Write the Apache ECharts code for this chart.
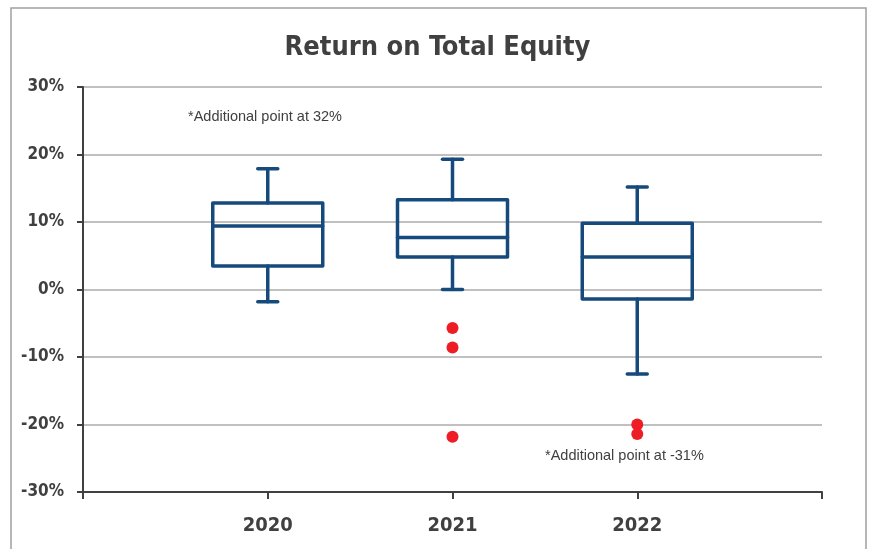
<!DOCTYPE html>
<html>
<head>
<meta charset="utf-8">
<script src="https://cdn.jsdelivr.net/npm/echarts@6/dist/echarts.min.js"></script>
<style>
  html, body { margin: 0; padding: 0; background: #fff; }
  #main { width: 875px; height: 549px; }
</style>
</head>
<body>
<div id="main"></div>
<script>
// categories (empty slots at both ends so the years sit on the ticks)
var years = ['', '2020', '2021', '2022', ''];
// [low whisker, Q1, median, Q3, high whisker] in %
var box2020 = [-1.8, 3.5, 9.4, 12.8, 17.9];
var box2021 = [0.0, 4.8, 7.7, 13.3, 19.3];
var box2022 = [-12.5, -1.4, 4.8, 9.8, 15.2];
// outliers [category index, value %]
var outliers = [[2, -5.7], [2, -8.6], [2, -21.8], [3, -20.0], [3, -21.4]];
var yTicks = [-30, -20, -10, 0, 10, 20, 30];

var boxes = [[1].concat(box2020), [2].concat(box2021), [3].concat(box2022)];

var chart = echarts.init(document.getElementById('main'));

var boxColor = '#174a7c';
var labelFont = 'DejaVu Sans Condensed, Liberation Sans Narrow, sans-serif';

function renderBox(params, api) {
  var x = api.value(0);
  var lo = api.coord([x, api.value(1)]);
  var q1 = api.coord([x, api.value(2)]);
  var med = api.coord([x, api.value(3)]);
  var q3 = api.coord([x, api.value(4)]);
  var hi = api.coord([x, api.value(5)]);
  var half = 55;
  var cap = 10;
  var cx = lo[0];
  var style = { stroke: boxColor, lineWidth: 3.5, fill: null, lineCap: 'round', lineJoin: 'round' };
  return {
    type: 'group',
    children: [
      { type: 'line', shape: { x1: cx, y1: hi[1], x2: cx, y2: q3[1] }, style: style },
      { type: 'line', shape: { x1: cx - cap, y1: hi[1], x2: cx + cap, y2: hi[1] }, style: style },
      { type: 'line', shape: { x1: cx, y1: q1[1], x2: cx, y2: lo[1] }, style: style },
      { type: 'line', shape: { x1: cx - cap, y1: lo[1], x2: cx + cap, y2: lo[1] }, style: style },
      { type: 'rect', shape: { x: cx - half, y: q3[1], width: half * 2, height: q1[1] - q3[1] }, style: style },
      { type: 'line', shape: { x1: cx - half, y1: med[1], x2: cx + half, y2: med[1] }, style: style }
    ]
  };
}

var option = {
  animation: false,
  title: {
    text: 'Return on Total Equity',
    left: 'center',
    top: 29,
    textStyle: { fontFamily: labelFont, fontSize: 27, fontWeight: 'bold', color: '#404040' }
  },
  graphic: [
    { type: 'rect', shape: { x: 11, y: 8, width: 855, height: 560 }, style: { fill: null, stroke: '#a0a0a0', lineWidth: 1.5 }, silent: true, z: -1 },
    { type: 'text', left: 188, top: 109, style: { text: '*Additional point at 32%', fontFamily: 'Liberation Sans, Arial, sans-serif', fontSize: 14.5, fill: '#404040' } },
    { type: 'text', left: 545, top: 448, style: { text: '*Additional point at -31%', fontFamily: 'Liberation Sans, Arial, sans-serif', fontSize: 14.5, fill: '#404040' } }
  ],
  grid: { left: 83, right: 53, top: 87, bottom: 57 },
  xAxis: {
    type: 'category',
    data: years,
    boundaryGap: false,
    axisLine: { onZero: false, lineStyle: { color: '#404040', width: 2 } },
    axisTick: { show: true, length: 7, lineStyle: { color: '#404040', width: 2 } },
    axisLabel: { margin: 24, fontFamily: labelFont, fontSize: 20, fontWeight: 'bold', color: '#404040' },
    splitLine: { show: false }
  },
  yAxis: {
    type: 'value',
    min: -30,
    max: 30,
    interval: 10,
    axisLine: { show: true, lineStyle: { color: '#404040', width: 2 } },
    axisTick: { show: true, length: 6, lineStyle: { color: '#404040', width: 2 } },
    axisLabel: {
      margin: 19,
      fontFamily: labelFont,
      fontSize: 17,
      fontWeight: 'bold',
      color: '#404040',
      formatter: function (v) { return yTicks.indexOf(v) >= 0 ? v + '%' : ''; }
    },
    splitLine: { show: true, lineStyle: { color: '#c0c0c0', width: 2 } }
  },
  series: [
    {
      type: 'custom',
      renderItem: renderBox,
      encode: { x: 0, y: [1, 2, 3, 4, 5] },
      data: boxes,
      z: 3
    },
    {
      type: 'scatter',
      data: outliers,
      symbol: 'circle',
      symbolSize: 12,
      itemStyle: { color: '#ee1c25', opacity: 1 },
      z: 4
    }
  ]
};

chart.setOption(option);
</script>
</body>
</html>
